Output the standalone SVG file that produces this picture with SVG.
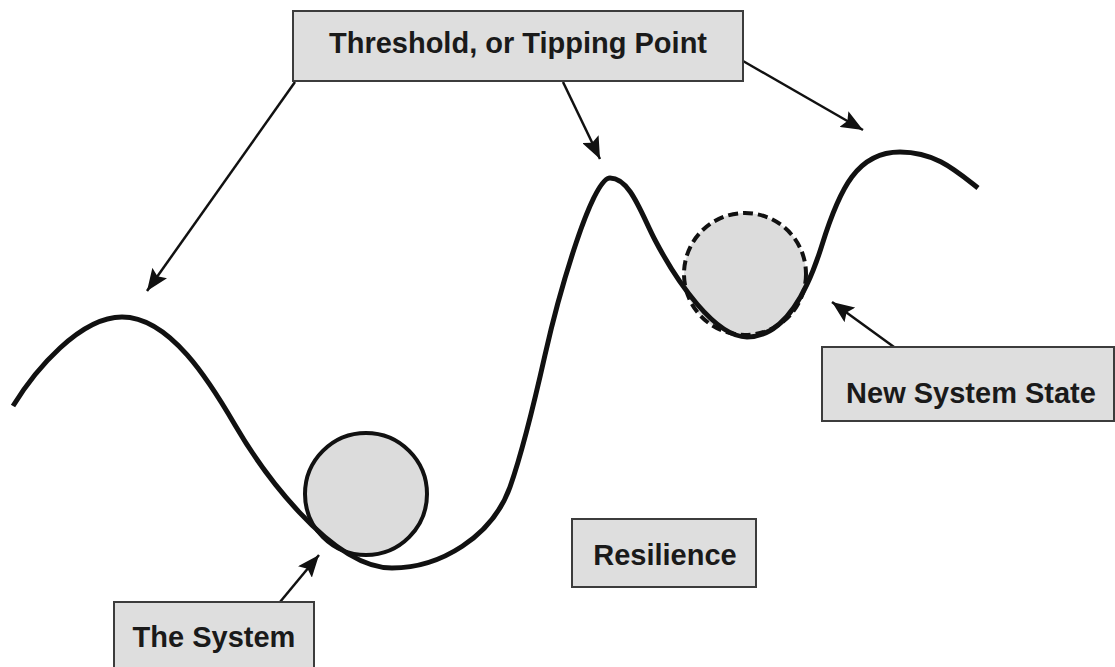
<svg xmlns="http://www.w3.org/2000/svg" width="1115" height="667" viewBox="0 0 1115 667">
<style>
.box{fill:#dedede;stroke:#3c3c3c;stroke-width:2}
.lbl{font-family:"Liberation Sans",Arial,sans-serif;font-weight:bold;font-size:29px;fill:#1a1a1a;text-anchor:middle}
.conn{stroke:#111;stroke-width:2.5;fill:none;marker-end:url(#ah)}
.land{stroke:#111;stroke-width:5;fill:none;stroke-linecap:butt}
.ball{fill:#dcdcdc;stroke:#111;stroke-width:4}
.ball2{fill:#dcdcdc;stroke:#111;stroke-width:4;stroke-dasharray:10 5}
</style>
<defs>
<marker id="ah" markerUnits="userSpaceOnUse" markerWidth="24" markerHeight="18" refX="22" refY="9" orient="auto">
<path d="M0,0 L22,9 L0,18 L4,9 z" fill="#111"/>
</marker>
</defs>
<rect width="1115" height="667" fill="#fff"/>
<g id="the-system-ball"><circle class="ball" cx="366" cy="494" r="61"/></g>
<g id="new-state-ball"><circle class="ball2" cx="745" cy="274" r="61"/></g>
<g id="landscape">
<path class="land" d="M13,406 C35,370 80,317 122,317 C170,317 210,382 235,425 C260,468 330,568 392,568 C440,568 492,537 510,487 C522,453 536,395 545,355 C559,293 592,178 610,178 C630,178 641,213 655,240 C677,282 715,337 747,337 C785,337 808,290 822,245 C840,187 858,152 900,152 C935,152 955,170 978,188"/>
</g>
<g id="connectors">
<line class="conn" x1="295" y1="82" x2="147" y2="291"/>
<line class="conn" x1="563" y1="82" x2="600" y2="159"/>
<line class="conn" x1="743" y1="61" x2="863" y2="130"/>
<line class="conn" x1="894" y1="347" x2="832" y2="302"/>
<line class="conn" x1="280" y1="602" x2="319" y2="555"/>
</g>
<g id="threshold">
<rect class="box" x="293" y="11" width="450" height="70"/>
<text class="lbl" x="518" y="53">Threshold, or Tipping Point</text>
</g>
<g id="the-system">
<rect class="box" x="114" y="602" width="200" height="80"/>
<text class="lbl" x="214" y="647">The System</text>
</g>
<g id="resilience">
<rect class="box" x="572" y="519" width="184" height="68"/>
<text class="lbl" x="665" y="565">Resilience</text>
</g>
<g id="new-system-state">
<rect class="box" x="822" y="347" width="292" height="74"/>
<text class="lbl" x="971" y="403">New System State</text>
</g>
</svg>
